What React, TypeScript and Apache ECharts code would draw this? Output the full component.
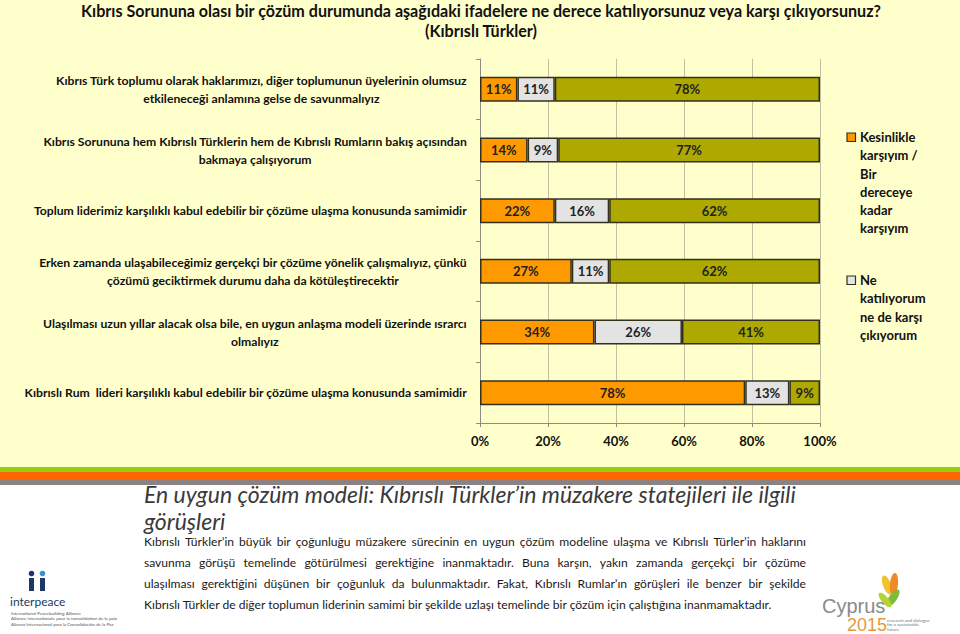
import React, { useEffect, useRef } from 'react';
import * as echarts from 'echarts';

const titleLines = [
  'Kıbrıs Sorununa olası bir çözüm durumunda aşağıdaki ifadelere ne derece katılıyorsunuz veya karşı çıkıyorsunuz?',
  '(Kıbrıslı Türkler)',
];

const categories = [
  'Kıbrıs Türk toplumu olarak haklarımızı, diğer toplumunun üyelerinin olumsuz\netkileneceği anlamına gelse de savunmalıyız',
  'Kıbrıs Sorununa hem Kıbrıslı Türklerin hem de Kıbrıslı Rumların bakış açısından\nbakmaya çalışıyorum',
  'Toplum liderimiz karşılıklı kabul edebilir bir çözüme ulaşma konusunda samimidir',
  'Erken zamanda ulaşabileceğimiz gerçekçi bir çözüme yönelik çalışmalıyız, çünkü\nçözümü geciktirmek durumu daha da kötüleştirecektir',
  'Ulaşılması uzun yıllar alacak olsa bile, en uygun anlaşma modeli üzerinde ısrarcı\nolmalıyız',
  'Kıbrıslı Rum  lideri karşılıklı kabul edebilir bir çözüme ulaşma konusunda samimidir',
];

const seriesNames = [
  'Kesinlikle karşıyım / Bir dereceye kadar karşıyım',
  'Ne katılıyorum ne de karşı çıkıyorum',
  'Kesinlikle katılıyorum / Bir dereceye kadar katılıyorum',
];
const legendTexts = [
  'Kesinlikle\nkarşıyım /\nBir\ndereceye\nkadar\nkarşıyım',
  'Ne\nkatılıyorum\nne de karşı\nçıkıyorum',
];

const opposeValues = [11, 14, 22, 27, 34, 78];
const neutralValues = [11, 9, 16, 11, 26, 13];
const agreeValues = [78, 77, 62, 62, 41, 9];

const xTickLabels = ['0%', '20%', '40%', '60%', '80%', '100%'];

const headingLines = [
  'En uygun çözüm modeli: Kıbrıslı Türkler’in müzakere statejileri ile ilgili',
  'görüşleri',
];
const bodyLines = [
  'Kıbrıslı Türkler’in büyük bir çoğunluğu müzakere sürecinin en uygun çözüm modeline ulaşma ve Kıbrıslı Türler’in haklarını',
  'savunma görüşü temelinde götürülmesi gerektiğine inanmaktadır. Buna karşın, yakın zamanda gerçekçi bir çözüme',
  'ulaşılması gerektiğini düşünen bir çoğunluk da bulunmaktadır. Fakat, Kıbrıslı Rumlar’ın görüşleri ile benzer bir şekilde',
  'Kıbrıslı Türkler de diğer toplumun liderinin samimi bir şekilde uzlaşı temelinde bir çözüm için çalıştığına inanmamaktadır.',
];
const interpeaceLines = [
  'International Peacebuilding Alliance',
  'Alliance internationale pour la consolidation de la paix',
  'Alianza Internacional para la Consolidación de la Paz',
];
const cyprusSubLines = ['research and dialogue', 'for a sustainable', 'future'];

const COLORS = ['#FF9900', '#E3E3E3', '#ADA900'];
const FONT = 'Lato, "DejaVu Sans", sans-serif';

const totals = opposeValues.map((v, i) => v + neutralValues[i] + agreeValues[i]);
const toData = (arr: number[]) =>
  arr.map((v, i) => ({ value: (v / totals[i]) * 100, raw: v }));

function justifiedWords(line: string, x0: number, width: number, y: number, size: number, justify: boolean) {
  const canvas = document.createElement('canvas');
  const ctx = canvas.getContext('2d')!;
  ctx.font = `${size}px ${FONT}`;
  const style = { fontFamily: FONT, fontSize: size, fill: '#1a1a1a' };
  if (!justify) {
    return [{ type: 'text', x: x0, y, style: { ...style, text: line, verticalAlign: 'middle' } }];
  }
  const words = line.split(' ');
  const widths = words.map((w) => ctx.measureText(w).width);
  const total = widths.reduce((a, b) => a + b, 0);
  const gap = (width - total) / (words.length - 1);
  let x = x0;
  return words.map((w, i) => {
    const el = { type: 'text', x, y, style: { ...style, text: w, verticalAlign: 'middle' } };
    x += widths[i] + gap;
    return el;
  });
}

export default function App() {
  const ref = useRef<HTMLDivElement>(null);
  useEffect(() => {
    if (!ref.current) return;
    const chart = echarts.init(ref.current, undefined, { renderer: 'svg' });

    const barLabel = {
      show: true,
      position: 'inside',
      color: '#222',
      fontFamily: FONT,
      fontWeight: 'bold',
      fontSize: 13,
      formatter: (p: any) => `${p.data.raw}%`,
    };
    const mkSeries = (i: number, arr: number[]) => ({
      name: seriesNames[i],
      type: 'bar',
      stack: 'total',
      barWidth: 25,
      data: toData(arr),
      itemStyle: { color: COLORS[i], borderColor: '#33301f', borderWidth: 1.5 },
      label: barLabel,
    });

    const graphics: any[] = [];
    // bottom white region and stripes
    graphics.push({ type: 'rect', shape: { x: 0, y: 485, width: 960, height: 149 }, style: { fill: '#ffffff' } });
    graphics.push({ type: 'rect', shape: { x: 0, y: 467, width: 960, height: 5 }, style: { fill: '#99CC11' } });
    graphics.push({ type: 'rect', shape: { x: 0, y: 472, width: 960, height: 8 }, style: { fill: '#FF6600' } });
    graphics.push({ type: 'rect', shape: { x: 0, y: 480, width: 960, height: 5 }, style: { fill: '#8C8282' } });
    // title
    graphics.push({
      type: 'text', x: 481, y: 10,
      style: { text: titleLines[0], fontFamily: FONT, fontWeight: 'bold', fontSize: 16.1, lineHeight: 18, fill: '#111', align: 'center', verticalAlign: 'middle' },
    });
    graphics.push({
      type: 'text', x: 481, y: 30,
      style: { text: titleLines[1], fontFamily: FONT, fontWeight: 'bold', fontSize: 16.1, lineHeight: 18, fill: '#111', align: 'center', verticalAlign: 'middle' },
    });
    // legend
    const legendTops = [133, 276];
    legendTexts.forEach((t, i) => {
      graphics.push({
        type: 'rect', shape: { x: 847, y: legendTops[i], width: 8.5, height: 8.5 },
        style: { fill: COLORS[i], stroke: '#33301f', lineWidth: 1.2 },
      });
      graphics.push({
        type: 'text', x: 860, y: legendTops[i] - 5,
        style: { text: t, fontFamily: FONT, fontWeight: 'bold', fontSize: 13, lineHeight: 18.2, fill: '#111', verticalAlign: 'top' },
      });
    });
    // heading
    graphics.push({
      type: 'text', x: 144, y: 494,
      style: { text: headingLines[0], fontFamily: FONT, fontStyle: 'italic', fontSize: 23, fill: '#3a3a3a', verticalAlign: 'middle' },
    });
    graphics.push({
      type: 'text', x: 144, y: 521,
      style: { text: headingLines[1], fontFamily: FONT, fontStyle: 'italic', fontSize: 23, fill: '#3a3a3a', verticalAlign: 'middle' },
    });
    // body
    const bodyY = [541, 562, 583, 604];
    bodyLines.forEach((l, i) => {
      graphics.push(...justifiedWords(l, 144, 662, bodyY[i], 12.1, i < 3));
    });
    // interpeace logo
    graphics.push({ type: 'circle', shape: { cx: 31.5, cy: 573.5, r: 2.8 }, style: { fill: '#1D3864' } });
    graphics.push({ type: 'circle', shape: { cx: 42.5, cy: 573.5, r: 2.8 }, style: { fill: '#3F8FD0' } });
    graphics.push({ type: 'rect', shape: { x: 29, y: 578, width: 5, height: 13 }, style: { fill: '#1D3864' } });
    graphics.push({ type: 'rect', shape: { x: 40, y: 578, width: 5, height: 13 }, style: { fill: '#1D3864' } });
    graphics.push({
      type: 'text', x: 10, y: 601,
      style: { text: 'interpeace', fontFamily: FONT, fontSize: 12, fill: '#1D3864', verticalAlign: 'middle' },
    });
    interpeaceLines.forEach((t, i) => {
      graphics.push({
        type: 'text', x: 11, y: 613 + i * 5.5,
        style: { text: t, fontFamily: FONT, fontSize: 4.5, fill: '#555', verticalAlign: 'middle' },
      });
    });
    // Cyprus 2015 logo
    graphics.push({ type: 'ellipse', shape: { cx: 0, cy: 0, rx: 4, ry: 10 }, x: 887, y: 585, rotation: 0.35, style: { fill: '#F2C12E' } });
    graphics.push({ type: 'ellipse', shape: { cx: 0, cy: 0, rx: 4, ry: 11 }, x: 894, y: 584, rotation: -0.1, style: { fill: '#F08A24' } });
    graphics.push({ type: 'ellipse', shape: { cx: 0, cy: 0, rx: 4, ry: 10 }, x: 893, y: 598, rotation: -0.6, style: { fill: '#7DBB3A' } });
    graphics.push({ type: 'ellipse', shape: { cx: 0, cy: 0, rx: 3.5, ry: 9 }, x: 885, y: 600, rotation: 0.7, style: { fill: '#B5D334' } });
    graphics.push({
      type: 'text', x: 822, y: 606,
      style: { text: 'Cyprus', fontFamily: '"Liberation Sans", sans-serif', fontSize: 20, lineHeight: 17, fill: '#8A8A8A', verticalAlign: 'middle' },
    });
    graphics.push({
      type: 'text', x: 847, y: 625,
      style: { text: '2015', fontFamily: '"Liberation Sans", sans-serif', fontSize: 18, lineHeight: 15, fill: '#E39B3A', verticalAlign: 'middle' },
    });
    cyprusSubLines.forEach((t, i) => {
      graphics.push({
        type: 'text', x: 887, y: 620 + i * 4.5,
        style: { text: t, fontFamily: FONT, fontSize: 4.5, fill: '#777', verticalAlign: 'middle' },
      });
    });

    const option: any = {
      animation: false,
      backgroundColor: '#FFFFCC',
      grid: { left: 480, top: 59, width: 340, height: 364 },
      xAxis: {
        type: 'value',
        min: 0,
        max: 100,
        interval: 20,
        axisLine: { show: true, lineStyle: { color: '#8E8E80' } },
        axisTick: { show: true, length: 4, lineStyle: { color: '#8E8E80' } },
        splitLine: { show: true, lineStyle: { color: '#C2C0A0', width: 1 } },
        axisLabel: {
          margin: 11,
          color: '#111',
          fontFamily: FONT,
          fontWeight: 'bold',
          fontSize: 13,
          formatter: (v: number) => xTickLabels[Math.round(v / 20)],
        },
      },
      yAxis: {
        type: 'category',
        data: categories,
        inverse: true,
        axisLine: { show: true, lineStyle: { color: '#8E8E80' } },
        axisTick: { show: true, length: 4, lineStyle: { color: '#8E8E80' } },
        axisLabel: {
          margin: 13,
          formatter: (v: string) => v.split('\n').map((l) => `{c|${l}}`).join('\n'),
          rich: {
            c: { align: 'center', fontFamily: FONT, fontWeight: 'bold', fontSize: 12.2, color: '#111', lineHeight: 18 },
          },
        },
      },
      series: [mkSeries(0, opposeValues), mkSeries(1, neutralValues), mkSeries(2, agreeValues)],
      graphic: { elements: graphics },
    };
    chart.setOption(option);
    return () => chart.dispose();
  }, []);
  return <div ref={ref} style={{ position: 'fixed', left: 0, top: 0, width: 960, height: 634 }} />;
}
